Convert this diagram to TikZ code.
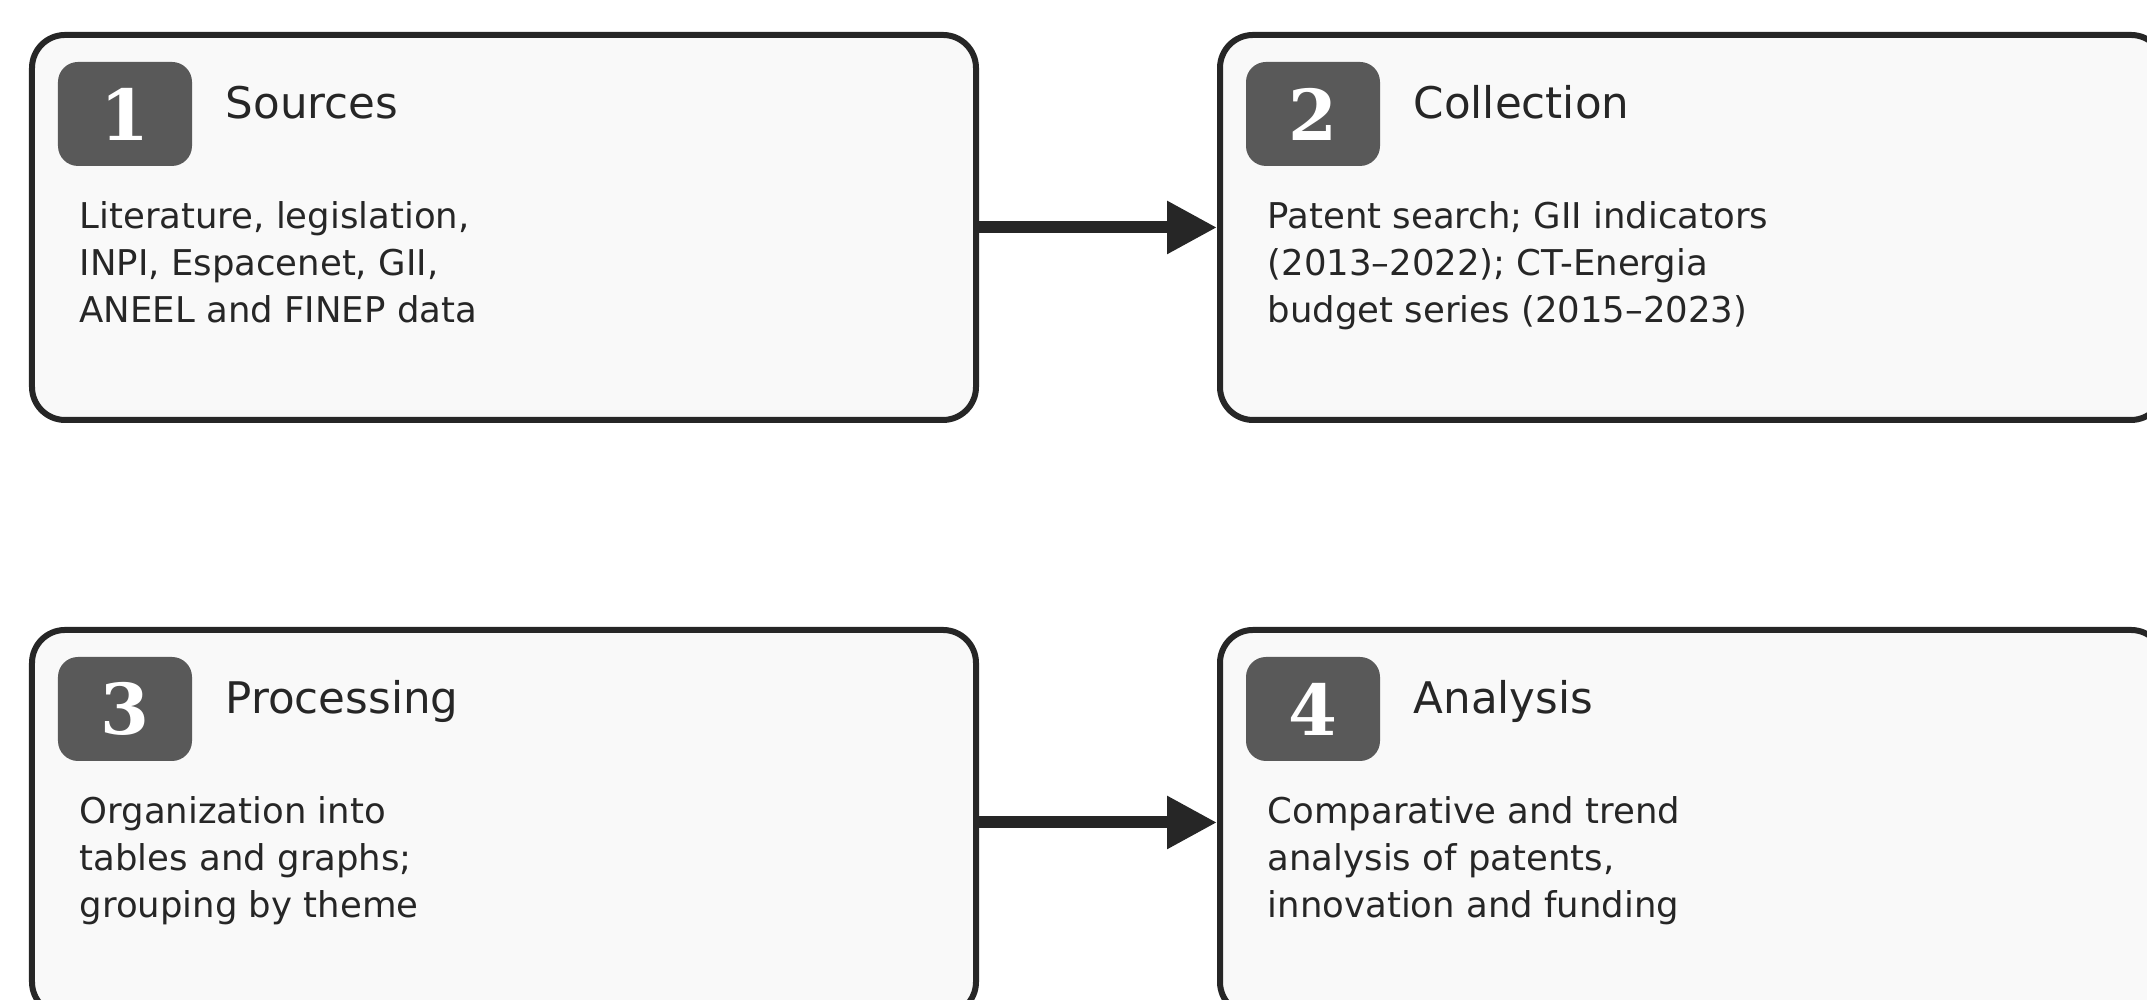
\documentclass[tikz,border=0pt]{standalone}
\usepackage{fontspec}
\setmainfont{DejaVu Sans}
\newfontfamily\badgefont{DejaVu Serif}
\usepackage{tikz}
\usetikzlibrary{positioning,arrows.meta}
\definecolor{boxline}{HTML}{262626}
\definecolor{boxfill}{HTML}{F9F9F9}
\definecolor{badgefill}{HTML}{595959}
% one stage: frame, numbered badge, title and description
\newcommand{\stagenode}[5]{%
  \node[stagebox] (#1) at (#2) {};
  \node[badge, below right=0.30cm and 0.29cm of #1.north west] (#1-n) {#3};
  \node[stagetitle] (#1-t) at ([xshift=0.33cm,yshift=-0.565cm]#1-n.north east) {#4};
  \node[stagetext, below right=1.69cm and 0.50cm of #1.north west] (#1-d) {#5};
}

\begin{document}
\begin{tikzpicture}[
  stagebox/.style={draw=boxline, fill=boxfill, line width=0.06cm, rounded corners=0.33cm, minimum width=9.44cm, minimum height=3.85cm},
  badge/.style={fill=badgefill, text=white, rounded corners=0.2cm, minimum width=1.34cm, minimum height=1.04cm, inner sep=0pt, outer sep=0pt, font=\badgefont\bfseries\fontsize{20}{24}\selectfont},
  stagetitle/.style={anchor=base west, inner sep=0pt, text=boxline, font=\fontsize{12.4}{14}\selectfont},
  stagetext/.style={align=left, inner sep=0pt, text=boxline, font=\fontsize{10.1}{13.4}\selectfont},
  flow/.style={draw=boxline, line width=0.12cm, -{Triangle[length=0.5cm,width=0.5cm]}},
  ]
  \useasboundingbox (0,0) rectangle (21.47,10);
  \clip (0,0) rectangle (21.47,10);

  \stagenode{src}{5.04,7.725}{1}{Sources}{Literature, legislation,\\INPI, Espacenet, GII,\\ANEEL and FINEP data}
  \stagenode{col}{16.92,7.725}{2}{Collection}{Patent search; GII indicators\\(2013--2022); CT-Energia\\budget series (2015--2023)}
  \stagenode{proc}{5.04,1.775}{3}{Processing}{Organization into\\tables and graphs;\\grouping by theme}
  \stagenode{ana}{16.92,1.775}{4}{Analysis}{Comparative and trend\\analysis of patents,\\innovation and funding}

  \draw[flow] (src) -- (col);
  \draw[flow] (proc) -- (ana);
\end{tikzpicture}
\end{document}
